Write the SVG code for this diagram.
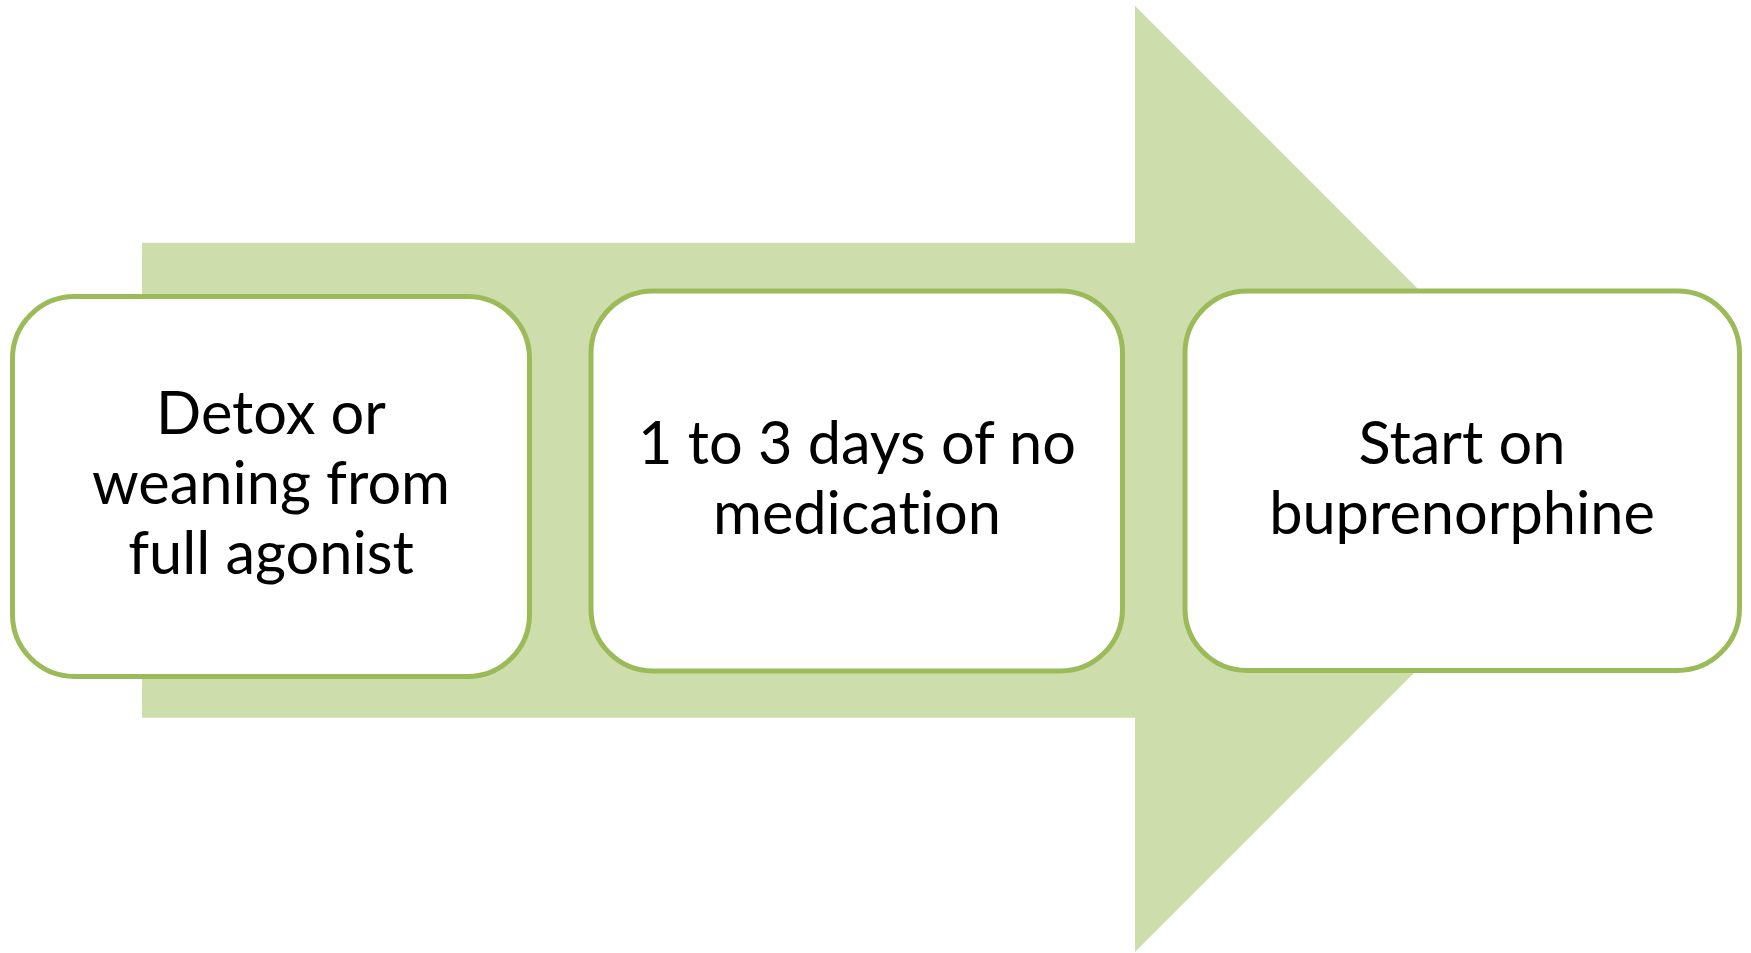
<svg xmlns="http://www.w3.org/2000/svg" width="1751" height="953" viewBox="0 0 1751 953">
<style>
.box{fill:#FFFFFF;stroke:#9BBB59;stroke-width:5}
.lbl{font-family:Lato,"Open Sans","Liberation Sans",sans-serif;font-size:59.5px;fill:#000000;text-anchor:middle;font-variant-ligatures:none;font-feature-settings:"liga" 0,"clig" 0}
</style>
<rect width="1751" height="953" fill="#FFFFFF"/>
<g id="connectors">
<polygon points="142,242.7 1135,242.7 1135,5.7 1608,479 1135,952 1135,717.7 142,717.7" fill="#CEDDAC"/>
</g>
<g id="node1">
<rect class="box" x="12.5" y="296.5" width="517" height="380" rx="62" ry="62"/>
<text class="lbl" x="271" y="434">Detox or</text>
<text class="lbl" x="271" y="504">weaning from</text>
<text class="lbl" x="271" y="574">full agonist</text>
</g>
<g id="node2">
<rect class="box" x="591" y="291" width="531.5" height="380" rx="62" ry="62"/>
<text class="lbl" x="857" y="463.5">1 to 3 days of no</text>
<text class="lbl" x="857" y="533.5">medication</text>
</g>
<g id="node3">
<rect class="box" x="1185" y="291" width="554.5" height="379.5" rx="62" ry="62"/>
<text class="lbl" x="1462" y="463.5">Start on</text>
<text class="lbl" x="1462" y="533.5">buprenorphine</text>
</g>
</svg>
